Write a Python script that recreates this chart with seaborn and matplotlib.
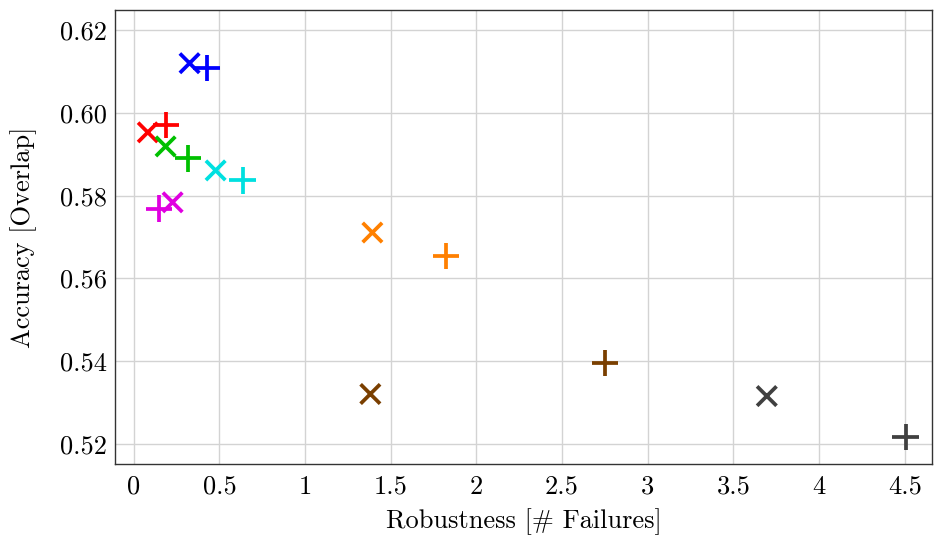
import matplotlib
matplotlib.use("Agg")
import matplotlib.pyplot as plt
import seaborn as sns
import pandas as pd

# Data (one colour per method; 'x' and '+' variants)
methods = ["blue", "red", "green", "cyan", "magenta", "orange", "brown", "gray"]
colors = ["#0000ff", "#ff0000", "#00c000", "#00e0e0", "#e000e0", "#ff8000", "#7a3f00", "#404040"]
x_cross = [0.326, 0.082, 0.186, 0.478, 0.227, 1.393, 1.381, 3.695]
y_cross = [0.6120, 0.5953, 0.5919, 0.5861, 0.5784, 0.5711, 0.5321, 0.5316]
x_plus = [0.425, 0.190, 0.315, 0.635, 0.146, 1.824, 2.750, 4.505]
y_plus = [0.6108, 0.5970, 0.5890, 0.5837, 0.5769, 0.5655, 0.5396, 0.5217]
x_ticks = [0, 0.5, 1, 1.5, 2, 2.5, 3, 3.5, 4, 4.5]
x_tick_labels = ["0", "0.5", "1", "1.5", "2", "2.5", "3", "3.5", "4", "4.5"]
y_ticks = [0.52, 0.54, 0.56, 0.58, 0.60, 0.62]
y_tick_labels = ["0.52", "0.54", "0.56", "0.58", "0.60", "0.62"]

sns.set_theme(style="whitegrid")
plt.rcParams["font.family"] = ["cmr10", "DejaVu Serif"]
plt.rcParams["axes.unicode_minus"] = False
plt.rcParams["mathtext.fontset"] = "cm"

df_x = pd.DataFrame({"method": methods, "x": x_cross, "y": y_cross})
df_p = pd.DataFrame({"method": methods, "x": x_plus, "y": y_plus})
palette = dict(zip(methods, colors))

fig = plt.figure(figsize=(9.34, 5.37), dpi=100)
ax = fig.add_axes([0.123, 0.136, 0.875, 0.845])

sns.scatterplot(data=df_x, x="x", y="y", hue="method", palette=palette, marker="x",
                s=14**2, linewidth=2.7, legend=False, ax=ax, zorder=3)
sns.scatterplot(data=df_p, x="x", y="y", hue="method", palette=palette, marker="+",
                s=19**2, linewidth=2.7, legend=False, ax=ax, zorder=3)

ax.set_xlim(-0.11, 4.66)
ax.set_ylim(0.5152, 0.6248)
ax.set_xticks(x_ticks)
ax.set_xticklabels(x_tick_labels)
ax.set_yticks(y_ticks)
ax.set_yticklabels(y_tick_labels)
ax.grid(True, color="#d3d3d3", linewidth=1.0)
for sp in ax.spines.values():
    sp.set_color("#333333")
    sp.set_linewidth(1.0)
    sp.set_visible(True)
ax.tick_params(axis="both", labelsize=19, labelcolor="black", color="#555555",
               direction="in", length=4, width=0.8, pad=6)
ax.tick_params(axis="x", pad=8)
ax.set_xlabel("Robustness [# Failures]", fontsize=19, labelpad=7, color="black")
ax.set_ylabel("Accuracy [Overlap]", fontsize=19, labelpad=16, color="black")
ax.set_facecolor("white")

fig.savefig("out.png", dpi=100)
